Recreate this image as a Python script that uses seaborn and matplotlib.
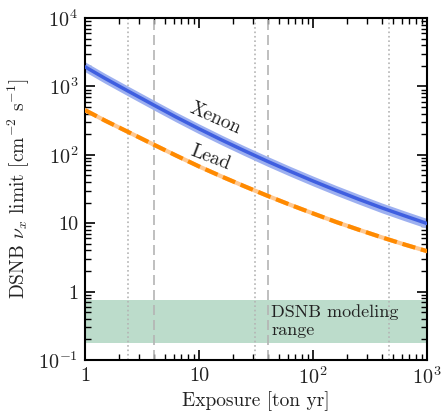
import numpy as np
import pandas as pd
import matplotlib
matplotlib.use("Agg")
import matplotlib.pyplot as plt
import matplotlib.ticker as mticker
import seaborn as sns

# ---- data ----
exposure = [1, 1.5, 2.4, 4, 6.3, 10, 16, 25, 40, 63, 100, 160, 250, 400, 630, 1000]
xenon_limit = [1936, 1309, 850, 535, 356, 240, 163, 114.7, 80.1, 57.4, 41.4, 30.1, 22.5, 16.8, 12.9, 9.9]
xenon_low = [1640, 1109, 720, 453, 302, 203, 138, 97.2, 67.8, 48.6, 35.1, 25.5, 19.1, 14.2, 10.9, 8.4]
xenon_high = [2285, 1545, 1003, 631, 420, 283, 192, 135, 94.5, 67.7, 48.9, 35.5, 26.6, 19.8, 15.2, 11.7]
lead_limit = [450, 316, 215, 141, 97.5, 67.6, 47.7, 34.7, 25.1, 18.6, 13.9, 10.4, 8.06, 6.22, 4.9, 3.9]
dotted_x = [2.4, 31, 464]
dashed_x = [4, 40]
band_low, band_high = 0.18, 0.76
x_ticks = [1, 10, 100, 1000]
x_ticklabels = ["1", "10", r"$10^2$", r"$10^3$"]
y_ticks = [0.1, 1, 10, 100, 1000, 10000]
y_ticklabels = [r"$10^{-1}$", "1", "10", r"$10^2$", r"$10^3$", r"$10^4$"]

df_x = pd.DataFrame({"exposure": exposure, "limit": xenon_limit})
df_l = pd.DataFrame({"exposure": exposure, "limit": lead_limit})

sns.set_style("ticks")
plt.rcParams["font.family"] = "serif"
plt.rcParams["font.serif"] = ["cmr10"]
plt.rcParams["mathtext.fontset"] = "cm"
plt.rcParams["axes.formatter.use_mathtext"] = True
plt.rcParams["axes.unicode_minus"] = False

fig = plt.figure(figsize=(4.43, 4.15), dpi=100)
ax = fig.add_axes([85 / 443, 1 - 360 / 415, 342 / 443, 342 / 415])

ax.axhspan(band_low, band_high, color="#bcdccb", lw=0, zorder=0)
for xv in dotted_x:
    ax.axvline(xv, color="#b4b4b4", ls=":", lw=1.2, zorder=1)
for xv in dashed_x:
    ax.axvline(xv, color="#b4b4b4", ls=(0, (6, 3)), lw=1.2, zorder=1)

ax.fill_between(exposure, xenon_low, xenon_high, color="#9db0f0", lw=0, zorder=2)
sns.lineplot(data=df_x, x="exposure", y="limit", ax=ax, color="#3f5fe0", lw=2.5, zorder=3)
sns.lineplot(data=df_l, x="exposure", y="limit", ax=ax, color="#ffc890", lw=3, zorder=3)
sns.lineplot(data=df_l, x="exposure", y="limit", ax=ax, color="#ff8a00", lw=3,
             zorder=4).lines[-1].set_linestyle((0, (3.2, 1.4)))

ax.set_xscale("log")
ax.set_yscale("log")
ax.set_xlim(1, 1000)
ax.set_ylim(0.1, 1e4)

ax.xaxis.set_major_locator(mticker.FixedLocator(x_ticks))
ax.xaxis.set_major_formatter(mticker.FixedFormatter(x_ticklabels))
ax.yaxis.set_major_locator(mticker.FixedLocator(y_ticks))
ax.yaxis.set_major_formatter(mticker.FixedFormatter(y_ticklabels))
ax.xaxis.set_minor_locator(mticker.LogLocator(base=10, subs=np.arange(2, 10)))
ax.yaxis.set_minor_locator(mticker.LogLocator(base=10, subs=np.arange(2, 10)))
ax.xaxis.set_minor_formatter(mticker.NullFormatter())
ax.yaxis.set_minor_formatter(mticker.NullFormatter())

ax.tick_params(which="both", direction="in", top=True, right=True, colors="black",
               labelsize=14.5, labelcolor="#222222")
ax.tick_params(which="major", length=7, width=1.2, pad=5)
ax.tick_params(which="minor", length=4, width=1)
for s in ax.spines.values():
    s.set_linewidth(1.5)
    s.set_color("black")

ax.set_xlabel("Exposure [ton yr]", fontsize=14, labelpad=2, color="#222222")
ax.set_ylabel(r"DSNB $\nu_x$ limit [cm$^{-2}$ s$^{-1}$]", fontsize=14, labelpad=4,
              color="#222222")

ax.text(14, 345, "Xenon", rotation=-24, fontsize=14, ha="center", va="center", color="#222222")
ax.text(12.5, 92, "Lead", rotation=-21, fontsize=14, ha="center", va="center", color="#222222")
ax.text(43, 0.66, "DSNB modeling\nrange", fontsize=13, ha="left", va="top",
        color="#222222", linespacing=1.25)

fig.savefig("out.png", dpi=100)
